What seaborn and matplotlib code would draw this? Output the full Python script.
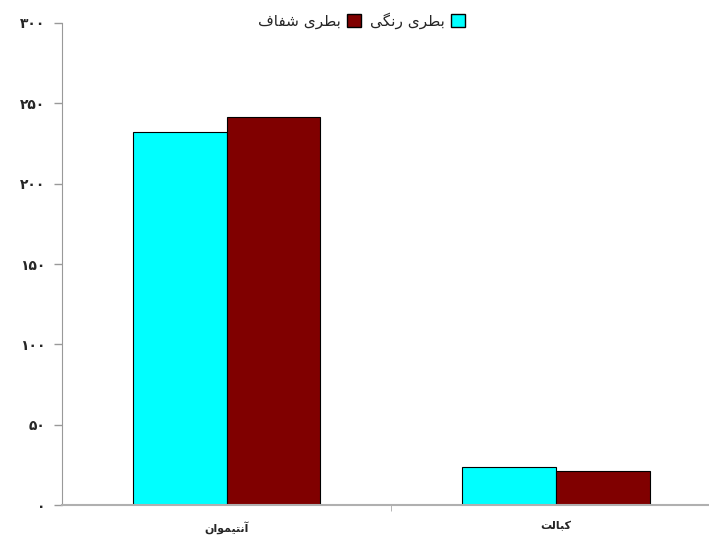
import numpy as np
import pandas as pd
import matplotlib
matplotlib.use("Agg")
import matplotlib.pyplot as plt
from matplotlib.patches import Patch
from matplotlib.ticker import FixedLocator, FixedFormatter
import seaborn as sns

# متن فارسی به صورت شکل‌های نمایشی (ترتیب دیداری) چون matplotlib شکل‌دهی عربی ندارد
categories = ["\uFEE5\uFE8D\uFEEE\uFEE4\uFBFF\uFE98\uFEE7\uFE81",  # آنتیموان
              "\uFE96\uFEDF\uFE8E\uFE92\uFB90"]                      # کبالت
series = ["\uFBFD\uFB95\uFEE7\uFEAD \uFBFC\uFEAE\uFEC4\uFE91",       # بطری رنگی
          "\uFED1\uFE8E\uFED4\uFEB7 \uFBFC\uFEAE\uFEC4\uFE91"]       # بطری شفاف
colored = [232, 23.7]
clear = [241.5, 21.2]
ytick_vals = [0, 50, 100, 150, 200, 250, 300]
ytick_labels = ["\u06F0", "\u06F5\u06F0", "\u06F1\u06F0\u06F0", "\u06F1\u06F5\u06F0",
                "\u06F2\u06F0\u06F0", "\u06F2\u06F5\u06F0", "\u06F3\u06F0\u06F0"]

df = pd.DataFrame({
    "cat": categories * 2,
    "series": [series[0]] * 2 + [series[1]] * 2,
    "value": colored + clear,
})

sns.set_style("white")
plt.rcParams["font.family"] = ["DejaVu Sans"]

fig = plt.figure(figsize=(7.09, 5.36), dpi=100)
ax = fig.add_axes([62 / 709, 1 - 505 / 536, 1 - 62 / 709, (505 - 23) / 536])

colors = ["#00FFFF", "#800000"]
sns.barplot(data=df, x="cat", y="value", hue="series", palette=colors,
            saturation=1, width=0.57, edgecolor="black", linewidth=0.8,
            ax=ax, legend=False)

ax.set_xlim(-0.5, 1.465)
ax.set_ylim(0, 300)
ax.yaxis.set_major_locator(FixedLocator(ytick_vals))
ax.yaxis.set_major_formatter(FixedFormatter(ytick_labels))
ax.tick_params(axis="y", left=True, length=6, color="#999999", width=1,
               labelsize=10, pad=6)
for t in ax.get_yticklabels():
    t.set_fontweight("bold")
ax.tick_params(axis="x", bottom=False, labelsize=8, pad=8)
for t in ax.get_xticklabels():
    t.set_fontweight("bold")
ax.set_xticks([0.5], minor=True)
ax.tick_params(axis="x", which="minor", bottom=True, length=4, color="#aaaaaa")

ax.set_xlabel("")
ax.set_ylabel("")
for s in ["top", "right"]:
    ax.spines[s].set_visible(False)
ax.spines["left"].set_color("#999999")
ax.spines["bottom"].set_color("#b0b0b0")
ax.spines["bottom"].set_linewidth(1.5)

handles = [Patch(facecolor=colors[1], edgecolor="black", label=series[1]),
           Patch(facecolor=colors[0], edgecolor="black", label=series[0])]
fig.legend(handles=handles, loc="center", bbox_to_anchor=(0.51, 0.962), ncol=2,
           frameon=False, markerfirst=False, fontsize=11, handlelength=0.9,
           handleheight=0.9, handletextpad=0.4, columnspacing=0.6)

fig.savefig("out.png", dpi=100)
